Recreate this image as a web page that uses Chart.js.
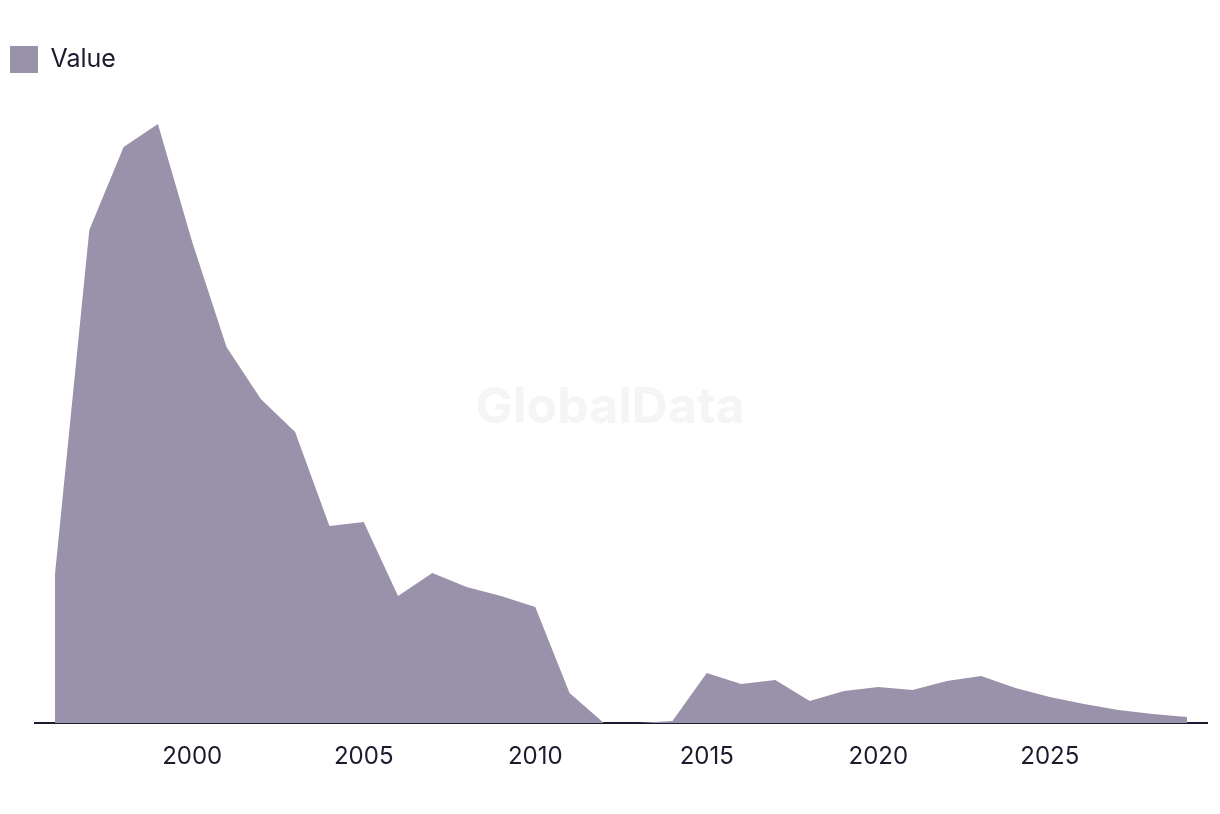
<!DOCTYPE html>
<html>
<head>
<meta charset="utf-8">
<script src="https://cdn.jsdelivr.net/npm/chart.js@4"></script>
<style>
  html, body { margin: 0; padding: 0; background: #fff; }
  #wrap { width: 1220px; height: 814px; }
</style>
</head>
<body>
<div id="wrap"><canvas id="myChart" width="1220" height="814"></canvas></div>
<script>
// data
const years = [1996, 1997, 1998, 1999, 2000, 2001, 2002, 2003, 2004, 2005,
  2006, 2007, 2008, 2009, 2010, 2011, 2012, 2013, 2014, 2015,
  2016, 2017, 2018, 2019, 2020, 2021, 2022, 2023, 2024, 2025,
  2026, 2027, 2028, 2029];
const values = [149, 493, 576, 599, 481, 376, 324, 291, 197, 201,
  127, 150, 136, 127, 116, 30, 0, 0, 2, 50,
  39, 43, 22, 32, 36, 33, 42, 47, 35, 26,
  19, 13, 9, 6];
const tickYears = [2000, 2005, 2010, 2015, 2020, 2025];

const ink = '#1b1a2e';
const fillColour = '#9a91aa';

// faint watermark in the middle
const watermark = {
  id: 'watermark',
  beforeDatasetsDraw(chart) {
    const c = chart.ctx;
    c.save();
    c.font = 'bold 50px Inter, "Liberation Sans", sans-serif';
    c.fillStyle = '#f5f5f5';
    c.textAlign = 'center';
    c.textBaseline = 'middle';
    c.fillText('GlobalData', 610, 408);
    c.restore();
  }
};

const ctx = document.getElementById('myChart').getContext('2d');

let myChart = new Chart(ctx, {
  type: 'line',
  data: {
    datasets: [{
      label: 'Value',
      data: years.map((y, i) => ({ x: y, y: values[i] })),
      backgroundColor: fillColour,
      borderColor: fillColour,
      borderWidth: 0,
      pointRadius: 0,
      tension: 0,
      fill: 'origin'
    }]
  },
  options: {
    responsive: false,
    animation: false,
    layout: { padding: { left: 0, right: 13, top: 36, bottom: 0 } },
    plugins: {
      legend: {
        position: 'top',
        align: 'start',
        labels: {
          boxWidth: 28,
          boxHeight: 27,
          padding: 10,
          color: ink,
          font: { family: 'Inter, "Liberation Sans", sans-serif', size: 25 }
        }
      },
      tooltip: { enabled: false }
    },
    scales: {
      x: {
        type: 'linear',
        min: 1995.417,
        max: 2029.583,
        afterBuildTicks: (s) => { s.ticks = tickYears.map(v => ({ value: v })); },
        afterFit: (s) => { s.height = 91; },
        grid: { display: false, drawTicks: false },
        border: { display: true, color: ink, width: 2 },
        ticks: {
          padding: 19,
          color: ink,
          maxRotation: 0,
          callback: (v) => String(v),
          font: { family: 'Inter, "Liberation Sans", sans-serif', size: 24 }
        }
      },
      y: {
        min: 0,
        max: 640,
        afterFit: (s) => { s.width = 35; },
        grid: { display: false, drawTicks: false },
        border: { display: false },
        ticks: { display: false }
      }
    }
  },
  plugins: [watermark]
});
</script>
</body>
</html>
